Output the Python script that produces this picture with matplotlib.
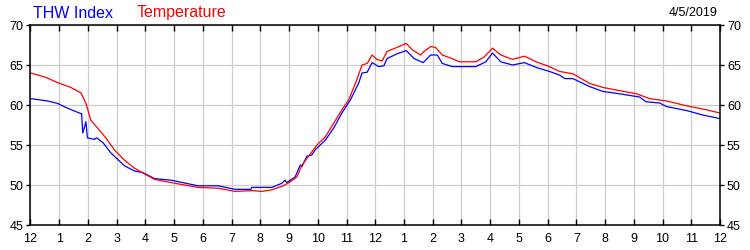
import matplotlib
matplotlib.use("Agg")
from matplotlib import pyplot as plt

# hours since midnight
temp_hours = [0, 0.5, 0.94, 1.4, 1.76, 1.93, 2.1, 2.34, 2.62, 2.92, 3.27, 3.62, 3.91,
              4.32, 4.9, 5.83, 6.53, 7.12, 7.7, 8.05, 8.4, 8.8, 9.04, 9.27, 9.45, 9.68,
              9.97, 10.26, 10.55, 10.84, 11.07, 11.31, 11.54, 11.72, 11.89, 12.06, 12.24,
              12.41, 12.76, 13.08, 13.29, 13.58, 13.7, 13.93, 14.1, 14.33, 14.68, 14.92,
              15.5, 15.79, 16.08, 16.37, 16.78, 17.19, 17.6, 18.06, 18.41, 18.88, 19.46,
              19.92, 20.5, 21.09, 21.55, 22.14, 22.84, 23.53, 24.0]
temperature = [64.0, 63.5, 62.8, 62.2, 61.5, 60.2, 58.1, 57.1, 55.9, 54.4, 53.1, 52.1, 51.5,
               50.7, 50.3, 49.7, 49.6, 49.2, 49.3, 49.2, 49.4, 49.9, 50.4, 51.0, 52.5, 53.6,
               55.0, 56.0, 57.7, 59.4, 60.6, 62.7, 65.0, 65.2, 66.25, 65.7, 65.5,
               66.7, 67.2, 67.7, 66.9, 66.25, 66.7, 67.3, 67.2, 66.25, 65.8, 65.4,
               65.4, 66.0, 67.1, 66.25, 65.7, 66.1, 65.4, 64.8, 64.2, 63.9, 62.7,
               62.2, 61.8, 61.4, 60.8, 60.5, 59.9, 59.4, 59.0]

thw_hours = [0, 0.6, 0.94, 1.29, 1.7, 1.78, 1.82, 1.93, 1.98, 2.22, 2.3, 2.52, 2.8, 3.27,
             3.62, 3.91, 4.32, 4.9, 5.83, 6.53, 7.12, 7.67, 7.7, 8.4, 8.74, 8.86, 8.92,
             9.04, 9.21, 9.39, 9.45, 9.62, 9.79, 9.91, 10.26, 10.55, 10.84, 11.13, 11.42,
             11.54, 11.72, 11.89, 12.12, 12.3, 12.41, 12.76, 13.08, 13.35, 13.67, 13.93,
             14.16, 14.33, 14.68, 15.5, 15.85, 16.08, 16.37, 16.78, 17.19, 17.6, 18.06,
             18.41, 18.6, 18.88, 19.46, 19.92, 20.5, 21.2, 21.43, 21.9, 22.14, 22.84,
             23.4, 24.0]
thw_index = [60.8, 60.5, 60.2, 59.6, 59.0, 58.9, 56.5, 57.9, 55.9, 55.7, 55.9, 55.3, 54.0, 52.4,
             51.75, 51.55, 50.8, 50.6, 49.9, 49.9, 49.46, 49.46, 49.7, 49.7, 50.2, 50.6, 50.3,
             50.6, 51.0, 52.5, 52.3, 53.6, 53.75, 54.4, 55.6, 57.1, 59.0, 60.6, 62.7,
             64.0, 64.1, 65.3, 64.8, 64.9, 65.8, 66.4, 66.8, 65.8, 65.3, 66.25,
             66.25, 65.2, 64.8, 64.8, 65.4, 66.5, 65.4, 65.0, 65.3, 64.7, 64.2,
             63.75, 63.3, 63.3, 62.3, 61.7, 61.4, 61.0, 60.4, 60.25, 59.8, 59.3,
             58.75, 58.3]

hour_labels = ["12"] + [str(i) for i in range(1, 12)] + ["12"] + [str(i) for i in range(1, 12)] + ["12"]
y_ticks = [45, 50, 55, 60, 65, 70]
date_text = "4/5/2019"

plt.rcParams["font.family"] = ["Liberation Sans", "DejaVu Sans"]

fig = plt.figure(figsize=(7.5, 2.5), dpi=100)
ax = fig.add_axes([30.5 / 750, 25 / 250, 689.5 / 750, 200 / 250])

ax.plot(thw_hours, thw_index, color="#0000ff", lw=0.9)
ax.plot(temp_hours, temperature, color="#ff0000", lw=0.9)

ax.set_xlim(0, 24)
ax.set_ylim(45, 70)
ax.set_xticks(range(25))
ax.set_xticklabels(hour_labels)
ax.set_yticks(y_ticks)
ax.grid(True, color="#cccccc", lw=0.9)
ax.set_axisbelow(True)

ax.tick_params(axis="x", direction="in", top=True, length=4, width=1, pad=6, labelsize=9)
ax.tick_params(axis="y", direction="out", right=True, labelright=True, length=3, width=1,
               pad=2, labelsize=9)
for s in ax.spines.values():
    s.set_linewidth(1.1)

fig.text(33 / 750, 1 - 13 / 250, "THW Index", color="#0000ff", fontsize=11.5, va="center")
fig.text(137 / 750, 1 - 13 / 250, "Temperature", color="#ff0000", fontsize=11.5, va="center")
fig.text(718 / 750, 1 - 13 / 250, date_text, color="black", fontsize=9, va="center", ha="right")

fig.savefig("out.png", dpi=100)
